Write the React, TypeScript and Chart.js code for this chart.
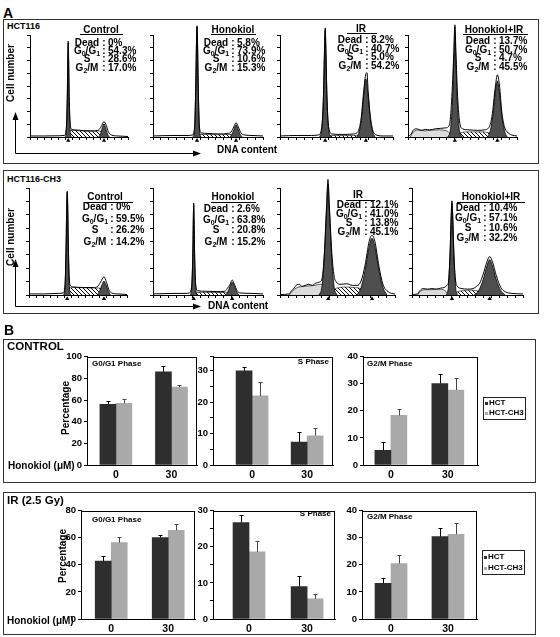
import React, { useEffect, useRef } from 'react';
import { Chart, registerables } from 'chart.js';
Chart.register(...registerables);

const FONT = '"Liberation Sans", Arial, Helvetica, sans-serif';
const DARK = '#2e2e2e';
const LIGHT = '#a9a9a9';
const PEAK = '#4e4e4e';

// ---------------- Panel B data ----------------
const doseLabels = ['0', '30'];
const seriesNames = ['HCT', 'HCT-CH3'];

const ctlG1Hct = [56, 86];
const ctlG1HctErr = [3, 5];
const ctlG1Ch3 = [57, 72];
const ctlG1Ch3Err = [4, 2];
const ctlSHct = [30, 7.3];
const ctlSHctErr = [1.3, 3.1];
const ctlSCh3 = [22, 9.3];
const ctlSCh3Err = [4.4, 2.5];
const ctlG2Hct = [5.4, 30.1];
const ctlG2HctErr = [3, 3.4];
const ctlG2Ch3 = [18.3, 27.7];
const ctlG2Ch3Err = [2.2, 4.5];

const irG1Hct = [42.7, 60.2];
const irG1HctErr = [4, 1.7];
const irG1Ch3 = [56.4, 65.5];
const irG1Ch3Err = [4.3, 4.4];
const irSHct = [26.7, 9.0];
const irSHctErr = [2.1, 2.9];
const irSCh3 = [18.6, 5.6];
const irSCh3Err = [2.9, 1.4];
const irG2Hct = [13.2, 30.4];
const irG2HctErr = [1.9, 3.3];
const irG2Ch3 = [20.5, 31.3];
const irG2Ch3Err = [3, 4.2];

// ---------------- Panel A data (DNA content 0-100, cell number % of axis) ----------------
const statLabels = ['Dead', 'G0/G1', 'S', 'G2/M'];
const treatTitles = ['Control', 'Honokiol', 'IR', 'Honokiol+IR'];
const hctStats = [
  ['0%', '54.3%', '28.6%', '17.0%'],
  ['5.8%', '73.9%', '10.6%', '15.3%'],
  ['8.2%', '40.7%', '5.0%', '54.2%'],
  ['13.7%', '50.7%', '4.7%', '45.5%'],
];
const ch3Stats = [
  ['0%', '59.5%', '26.2%', '14.2%'],
  ['2.6%', '63.8%', '20.8%', '15.2%'],
  ['12.1%', '41.0%', '13.8%', '45.1%'],
  ['10.4%', '57.1%', '10.6%', '32.2%'],
];

// HCT116 control
const hctCtlTotal = [[0,1],[15,1],[30,1.2],[35,1.5],[37,8],[38,38],[38.6,78],[39,94],[39.4,78],[40,40],[41,14],[42,8],[46,7],[55,6.2],[65,6],[70,7],[72.5,10],[75.5,15],[78,11],[80,5],[83,2],[90,1],[100,0.5]];
const hctCtlG1 = [[36,0],[37,6],[38,35],[38.6,75],[39,92],[39.4,75],[40,35],[41,6],[42,0]];
const hctCtlG2 = [[70,0],[72,3],[73.8,9],[75.5,13],[77.2,9],[79,3],[81,0]];
const hctCtlS = [[38.5,0],[40,5],[44,6.5],[52,6],[62,5.5],[70,6],[74,4],[76,0]];
const hctCtlMarks = [39, 75.5];
// HCT116 honokiol
const hctHonTotal = [[0,1],[20,1.5],[32,1.5],[36,2],[37.8,10],[38.8,47],[39.5,92],[40,109],[40.5,92],[41.2,47],[42.2,10],[44,4],[50,3.5],[60,3],[68,3.5],[71,5],[73.5,10],[75.5,14],[77.5,10],[80,4],[83,2],[90,1.5],[100,1]];
const hctHonG1 = [[36.5,0],[37.8,8],[38.8,45],[39.5,90],[40,108],[40.5,90],[41.2,45],[42.2,8],[43.5,0]];
const hctHonG2 = [[70,0],[72,3],[74,8.5],[75.5,12],[77,8.5],[79,3],[81,0]];
const hctHonS = [[40,0],[42,2.5],[50,2.5],[60,2.2],[70,2.5],[74,1.5],[76,0]];
const hctHonMarks = [40, 75.5];
// HCT116 IR
const hctIrTotal = [[0,1],[15,1.5],[28,1.5],[34,2],[37,10],[38.5,42],[39.4,87],[40,107],[40.6,87],[41.5,42],[43,10],[46,3],[55,2.5],[65,3],[68,4],[70,8],[72,20],[74,44],[76,62],[77,63],[78,45],[80,20],[82,7],[85,2],[92,1],[100,1]];
const hctIrG1 = [[35,0],[37,8],[38.5,40],[39.4,85],[40,105],[40.6,85],[41.5,40],[43,8],[45,0]];
const hctIrG2 = [[68,0],[70,5],[72,17],[74,40],[76,57],[78,40],[80,17],[82,5],[84,0]];
const hctIrS = [[42,0],[45,1.5],[55,1.5],[65,1.5],[70,1],[72,0]];
const hctIrMarks = [40, 76];
// HCT116 honokiol + IR
const hctHonIrTotal = [[0,0.5],[3,3],[5,7],[8,8],[12,6.5],[16,7.5],[20,7],[25,8],[30,8.5],[35,9],[38,12],[40,35],[42,82],[43,110],[44,82],[45.5,40],[47.5,14],[50,8],[56,7],[64,6.5],[70,7],[74,9],[77,20],[80,48],[82,61],[84,50],[86,25],[88.5,10],[91,5],[95,2],[100,1]];
const hctHonIrG1 = [[36.5,0],[39,8],[41,40],[42.3,85],[43,108],[43.7,85],[45,40],[47,8],[49.5,0]];
const hctHonIrG2 = [[73,0],[75.5,6],[78,22],[80.5,47],[82,55],[83.5,47],[86,22],[88.5,6],[91,0]];
const hctHonIrS = [[44,0],[48,4],[55,5],[62,5],[70,5],[76,3],[80,0]];
const hctHonIrDebris = [[2,0],[5,5],[10,7],[15,6],[20,6.5],[28,7],[34,6.5],[38,4],[40,0]];
const hctHonIrMarks = [43, 82];

// HCT116-CH3 control
const ch3CtlTotal = [[0,1],[15,1],[30,1.5],[35,2],[36.8,10],[37.8,44],[38.5,84],[39,97],[39.5,84],[40.2,44],[41.2,14],[42.5,8.5],[46,7.5],[56,7],[66,7],[70,8],[73,12],[76.5,17],[79,12],[81.5,5],[84,2],[90,1],[100,0.5]];
const ch3CtlG1 = [[35.5,0],[36.8,8],[37.8,42],[38.5,82],[39,96],[39.5,82],[40.2,42],[41.2,8],[42.5,0]];
const ch3CtlG2 = [[70,0],[72,3.5],[74.5,9.5],[76.5,13],[78.5,9.5],[81,3.5],[83,0]];
const ch3CtlS = [[38.5,0],[40.5,6],[45,7],[55,6.8],[65,6.5],[71,6.5],[75,4],[78,0]];
const ch3CtlMarks = [39, 76.5];
// HCT116-CH3 honokiol
const ch3HonTotal = [[0,1],[20,1.5],[30,1.5],[33,2],[35.2,9],[36.2,40],[36.7,74],[37,86],[37.3,74],[37.8,40],[38.8,10],[40.5,4],[48,3.5],[58,3.2],[65,3.5],[67.5,6],[70,10],[72,14],[74,10],[76.5,4],[79,2],[90,1.5],[100,1]];
const ch3HonG1 = [[34,0],[35.2,7],[36.2,38],[36.7,72],[37,84],[37.3,72],[37.8,38],[38.8,7],[40,0]];
const ch3HonG2 = [[66,0],[68,3],[70,8],[72,12],[74,8],[76,3],[78,0]];
const ch3HonS = [[38,0],[40,2.5],[50,2.5],[60,2.3],[67,2.5],[70,1.5],[72,0]];
const ch3HonMarks = [37, 72];
// HCT116-CH3 IR
const ch3IrTotal = [[0,0.5],[8,1],[10,4],[12,6],[14,9],[17,10],[19,8],[22,9],[25,10],[28,9],[31,11],[34,12],[36.5,15],[38.5,38],[40.5,83],[41.7,108],[42.9,84],[45,40],[47,18],[49,12],[53,10],[58,10.5],[63,9],[67,9],[70.5,13],[74,28],[77.5,50],[80,56],[82.5,50],[86,27],[89.5,10],[93,4],[97,1.5],[100,1]];
const ch3IrG1 = [[34,0],[36.5,8],[38.5,35],[40.5,80],[41.7,104],[42.9,80],[45,35],[47,8],[49.5,0]];
const ch3IrG2 = [[67,0],[70.5,7],[74,23],[77.5,45],[80,53],[82.5,45],[86,23],[89.5,7],[93,0]];
const ch3IrS = [[44,0],[47,5],[52,7],[58,7.5],[64,7],[70,6],[74,3],[77,0]];
const ch3IrDebris = [[8,0],[11,4],[15,7],[20,8],[25,8.5],[30,9],[35,10],[38,8],[40,0]];
const ch3IrMarks = [42, 80];
// HCT116-CH3 honokiol + IR
const ch3HonIrTotal = [[0,0.5],[5,1],[7,4],[10,6],[14,5.5],[18,6],[22,5.5],[26,6.5],[29,7],[31.5,9],[32.8,12],[34.3,40],[35.3,74],[36,88],[36.7,74],[37.7,40],[39.2,14],[41,8],[45,6],[50,5.5],[55,6],[58,8],[61,11],[64,19],[67.5,31],[70,36],[72.5,31],[76,18],[80,7],[84,3],[90,1.5],[100,1]];
const ch3HonIrG1 = [[31,0],[32.8,8],[34.3,38],[35.3,72],[36,86],[36.7,72],[37.7,38],[39.2,8],[41,0]];
const ch3HonIrG2 = [[56,0],[60,4],[64,14],[67.5,27],[70,33],[72.5,27],[76,14],[80,4],[84,0]];
const ch3HonIrS = [[38,0],[41,3],[46,4],[52,4.5],[58,4],[62,2.5],[65,0]];
const ch3HonIrDebris = [[5,0],[7,3],[12,5],[18,5],[24,5.5],[28,5],[31,3],[33,0]];
const ch3HonIrMarks = [36, 70];

// ---------------- helpers ----------------
function T(props: any) {
  const { x, y, s = 10, align = 'left', w = 200, style = {}, children } = props;
  const left = align === 'left' ? x : align === 'center' ? x - w / 2 : x - w;
  return (
    <div style={{ position: 'absolute', left, top: y - 0.59 * s, width: w, fontSize: s, lineHeight: `${1.2 * s}px`,
      fontFamily: FONT, fontWeight: 'bold', textAlign: align, whiteSpace: 'nowrap', color: '#000', ...style }}>{children}</div>
  );
}

function RotT(props: any) {
  const { cx, cy, s = 10, children } = props;
  return (
    <div style={{ position: 'absolute', left: cx - 50, top: cy - 0.6 * s, width: 100, fontSize: s, lineHeight: `${1.2 * s}px`,
      fontFamily: FONT, fontWeight: 'bold', textAlign: 'center', whiteSpace: 'nowrap', color: '#000',
      transform: 'rotate(-90deg)', transformOrigin: '50% 50%' }}>{children}</div>
  );
}

const subStyle: any = { fontSize: '0.7em', verticalAlign: '-0.25em', lineHeight: 0 };
function labelNode(i: number) {
  if (i === 1) return <span>G<span style={subStyle}>0</span>/G<span style={subStyle}>1</span></span>;
  if (i === 3) return <span>G<span style={subStyle}>2</span>/M</span>;
  return statLabels[i];
}

function Stats(props: any) {
  const { title, tx, ty, ul, colon, rows, values } = props;
  return (
    <>
      <T x={tx} y={ty} align="center" w={90}>{title}</T>
      <div style={{ position: 'absolute', left: ul[0], top: ul[2], width: ul[1] - ul[0], height: 1, background: '#000' }} />
      {rows.map((ry: number, i: number) => (
        <React.Fragment key={i}>
          <T x={colon - 17} y={ry} align="center" w={36}>{labelNode(i)}</T>
          <T x={colon} y={ry} align="center" w={8}>:</T>
          <T x={colon + 4} y={ry} w={60}>{values[i]}</T>
        </React.Fragment>
      ))}
    </>
  );
}

function Hist(props: any) {
  const ref = useRef<HTMLCanvasElement>(null);
  const PT = 14, PR = 4, YW = 4, XH = 8;
  useEffect(() => {
    const cv = ref.current as HTMLCanvasElement;
    const pc = document.createElement('canvas');
    pc.width = 4; pc.height = 4;
    const pctx = pc.getContext('2d') as CanvasRenderingContext2D;
    pctx.fillStyle = '#fff'; pctx.fillRect(0, 0, 4, 4);
    pctx.strokeStyle = '#000'; pctx.lineWidth = 1;
    pctx.beginPath(); pctx.moveTo(0, 0); pctx.lineTo(4, 4); pctx.stroke();
    const hatch = (cv.getContext('2d') as CanvasRenderingContext2D).createPattern(pc, 'repeat');
    const toXY = (a: number[][]) => a.map(([x, y]) => ({ x, y }));
    const area = (d: number[][], bg: any, bw: number) => ({ data: toXY(d), backgroundColor: bg, borderColor: '#000', borderWidth: bw,
      fill: 'origin', pointRadius: 0, cubicInterpolationMode: 'monotone', clip: false });
    const ds: any[] = [
      { data: toXY(props.total), borderColor: '#000', borderWidth: 1, fill: false, pointRadius: 0, cubicInterpolationMode: 'monotone', clip: false },
      { data: props.marks.map((x: number) => ({ x, y: -3.5 })), showLine: false, pointStyle: 'triangle', pointRadius: 2.5,
        pointBackgroundColor: '#000', pointBorderColor: '#000', pointBorderWidth: 0, fill: false, clip: false },
      area(props.g1, PEAK, 0.8),
      area(props.g2, PEAK, 0.8),
      area(props.s, hatch, 0.6),
    ];
    if (props.debris) ds.push(area(props.debris, '#dcdcdc', 0.6));
    const axis = (count: number) => ({
      type: 'linear', min: 0, max: 100,
      ticks: { display: false, count },
      grid: { drawOnChartArea: false, drawTicks: true, tickLength: 3, tickColor: '#000', color: '#000' },
      border: { display: true, color: '#000', width: 1 },
    });
    const chart = new Chart(cv, {
      type: 'line',
      data: { datasets: ds },
      options: {
        animation: false, responsive: false, events: [],
        layout: { padding: { top: PT, right: PR, left: 0, bottom: 0 } },
        plugins: { legend: { display: false }, tooltip: { enabled: false } },
        scales: {
          x: { ...axis(15), afterFit: (s: any) => { s.height = XH; } },
          y: { ...axis(9), afterFit: (s: any) => { s.width = YW; } },
        },
      } as any,
    });
    return () => chart.destroy();
  }, []);
  return <canvas ref={ref} width={props.w + YW + PR} height={props.h + PT + XH}
    style={{ position: 'absolute', left: props.x - YW, top: props.top - PT }} />;
}

const errorBarPlugin = {
  id: 'errbars',
  afterDatasetsDraw(chart: any) {
    const ctx = chart.ctx;
    const ys = chart.scales.y;
    chart.data.datasets.forEach((ds: any, i: number) => {
      const meta = chart.getDatasetMeta(i);
      if (!ds.errs) return;
      meta.data.forEach((bar: any, j: number) => {
        const v = ds.data[j].y;
        const top = Math.round(ys.getPixelForValue(v + ds.errs[j])) + 0.5;
        const x = Math.round(bar.x) + 0.5;
        ctx.save();
        ctx.strokeStyle = ds.errColor;
        ctx.lineWidth = 1;
        ctx.beginPath();
        ctx.moveTo(x, bar.y);
        ctx.lineTo(x, top);
        ctx.moveTo(x - 2, top);
        ctx.lineTo(x + 2, top);
        ctx.stroke();
        ctx.restore();
      });
    });
  },
};

const framePlugin = {
  id: 'frame',
  afterDraw(chart: any) {
    const { left, top, right, bottom } = chart.chartArea;
    const ctx = chart.ctx;
    ctx.save();
    ctx.strokeStyle = '#000';
    ctx.lineWidth = 1;
    ctx.strokeRect(Math.round(left) + 0.5, Math.round(top) + 0.5, Math.round(right - left) - 1, Math.round(bottom - top));
    ctx.restore();
  },
};

function Bars(props: any) {
  const ref = useRef<HTMLCanvasElement>(null);
  const PT = 6, PR = 4, YW = 30, XH = 18;
  useEffect(() => {
    const cv = ref.current as HTMLCanvasElement;
    const mk = (vals: number[], errs: number[], color: string, errColor: string, label: string) => ({
      label, data: vals.map((v, i) => ({ x: i, y: v })), backgroundColor: color, borderWidth: 0,
      barThickness: 16, errs, errColor,
    });
    const labelEvery = props.labelEvery;
    const chart = new Chart(cv, {
      type: 'bar',
      data: { datasets: [mk(props.hct, props.hctErr, DARK, '#000', seriesNames[0]), mk(props.ch3, props.ch3Err, LIGHT, '#444', seriesNames[1])] },
      options: {
        animation: false, responsive: false, events: [],
        layout: { padding: { top: PT, right: PR, left: 0, bottom: 0 } },
        plugins: { legend: { display: false }, tooltip: { enabled: false } },
        scales: {
          x: {
            type: 'linear', min: props.xMin, max: props.xMax, offset: false,
            afterBuildTicks: (s: any) => { s.ticks = [{ value: 0 }, { value: 1 }]; },
            ticks: { callback: (v: any) => doseLabels[v] ?? '', font: { family: FONT, size: 10.5, weight: 'bold' }, color: '#000', padding: 4, maxRotation: 0, autoSkip: false },
            grid: { drawOnChartArea: false, drawTicks: false, offset: false },
            border: { display: true, color: '#000', width: 1 },
            afterFit: (s: any) => { s.height = XH; },
          },
          y: {
            min: 0, max: props.yMax,
            ticks: { stepSize: props.yStep, callback: (v: any) => (v % labelEvery === 0 ? String(v) : ''), font: { family: FONT, size: 9.5, weight: 'bold' }, color: '#000', padding: 2 },
            grid: { drawOnChartArea: false, drawTicks: true, tickLength: 3, tickColor: '#000' },
            border: { display: true, color: '#000', width: 1 },
            afterFit: (s: any) => { s.width = YW; },
          },
        },
      } as any,
      plugins: [errorBarPlugin, framePlugin],
    });
    return () => chart.destroy();
  }, []);
  return <canvas ref={ref} width={props.w + YW + PR} height={props.h + PT + XH}
    style={{ position: 'absolute', left: props.x - YW, top: props.top - PT }} />;
}

function Legend(props: any) {
  const { x, y, w, h, r1, r2 } = props;
  return (
    <>
      <div style={{ position: 'absolute', left: x, top: y, width: w, height: h, border: '1px solid #222', boxSizing: 'border-box' }} />
      <div style={{ position: 'absolute', left: x + 2, top: r1 - 1, width: 3, height: 3, background: DARK }} />
      <T x={x + 6} y={r1} s={8} w={40}>{seriesNames[0]}</T>
      <div style={{ position: 'absolute', left: x + 2, top: r2 - 1, width: 3, height: 3, background: LIGHT }} />
      <T x={x + 6} y={r2} s={8} w={40}>{seriesNames[1]}</T>
    </>
  );
}

function Box(props: any) {
  const { x, y, w, h } = props;
  return <div style={{ position: 'absolute', left: x, top: y, width: w, height: h, border: '1px solid #333', boxSizing: 'border-box' }} />;
}

export default function App() {
  return (
    <div style={{ position: 'absolute', left: 0, top: 0, width: 560, height: 637, background: '#fff', overflow: 'hidden' }}>
      {/* ---------- Panel A ---------- */}
      <T x={3} y={13} s={14}>A</T>
      <Box x={3} y={19} w={536} h={145} />
      <Box x={3} y={170} w={536} h={144} />
      <T x={7} y={26} s={9}>HCT116</T>
      <T x={7} y={179} s={9}>HCT116-CH3</T>

      <Hist x={30} top={35} w={98} h={102} total={hctCtlTotal} g1={hctCtlG1} g2={hctCtlG2} s={hctCtlS} marks={hctCtlMarks} />
      <Hist x={153} top={35} w={110} h={102} total={hctHonTotal} g1={hctHonG1} g2={hctHonG2} s={hctHonS} marks={hctHonMarks} />
      <Hist x={280} top={35} w={113} h={102} total={hctIrTotal} g1={hctIrG1} g2={hctIrG2} s={hctIrS} marks={hctIrMarks} />
      <Hist x={408} top={35} w={109} h={102} total={hctHonIrTotal} g1={hctHonIrG1} g2={hctHonIrG2} s={hctHonIrS} debris={hctHonIrDebris} marks={hctHonIrMarks} />

      <Hist x={29} top={188} w={98} h={107} total={ch3CtlTotal} g1={ch3CtlG1} g2={ch3CtlG2} s={ch3CtlS} marks={ch3CtlMarks} />
      <Hist x={153} top={188} w={110} h={107} total={ch3HonTotal} g1={ch3HonG1} g2={ch3HonG2} s={ch3HonS} marks={ch3HonMarks} />
      <Hist x={280} top={188} w={115} h={107} total={ch3IrTotal} g1={ch3IrG1} g2={ch3IrG2} s={ch3IrS} debris={ch3IrDebris} marks={ch3IrMarks} />
      <Hist x={412} top={188} w={111} h={107} total={ch3HonIrTotal} g1={ch3HonIrG1} g2={ch3HonIrG2} s={ch3HonIrS} debris={ch3HonIrDebris} marks={ch3HonIrMarks} />

      <Stats title={treatTitles[0]} tx={101} ty={30} ul={[80, 123, 34]} colon={104} rows={[42.5, 51, 59, 67.5]} values={hctStats[0]} />
      <Stats title={treatTitles[1]} tx={233} ty={30} ul={[211, 256, 34]} colon={233} rows={[42.5, 51, 59, 67.5]} values={hctStats[1]} />
      <Stats title={treatTitles[2]} tx={361} ty={29} ul={[347, 377, 33]} colon={367} rows={[40, 48.5, 57, 66]} values={hctStats[2]} />
      <Stats title={treatTitles[3]} tx={494} ty={30} ul={[463, 528, 34]} colon={495} rows={[41, 49.5, 58, 67]} values={hctStats[3]} />

      <Stats title={treatTitles[0]} tx={105} ty={197} ul={[85, 133, 202]} colon={112} rows={[207, 218.5, 230, 242]} values={ch3Stats[0]} />
      <Stats title={treatTitles[1]} tx={233} ty={197} ul={[211, 256, 202]} colon={233} rows={[209, 220, 230, 242]} values={ch3Stats[1]} />
      <Stats title={treatTitles[2]} tx={358} ty={195} ul={[346, 375, 200]} colon={366} rows={[205, 213.5, 222.5, 231.5]} values={ch3Stats[2]} />
      <Stats title={treatTitles[3]} tx={491} ty={197} ul={[457, 525, 202]} colon={485} rows={[208, 218, 228, 238]} values={ch3Stats[3]} />

      <svg width={560} height={637} style={{ position: 'absolute', left: 0, top: 0 }}>
        <line x1={15.5} y1={153.5} x2={15.5} y2={118} stroke="#000" strokeWidth={1} />
        <polygon points="12.5,120 18.5,120 15.5,112" fill="#000" />
        <line x1={15.5} y1={153.5} x2={195} y2={153.5} stroke="#000" strokeWidth={1} />
        <polygon points="193,150.5 193,156.5 201,153.5" fill="#000" />
        <line x1={15.5} y1={306.5} x2={15.5} y2={266} stroke="#000" strokeWidth={1} />
        <polygon points="12.5,267 18.5,267 15.5,259" fill="#000" />
        <line x1={15.5} y1={306.5} x2={195} y2={306.5} stroke="#000" strokeWidth={1} />
        <polygon points="193,303.5 193,309.5 201,306.5" fill="#000" />
      </svg>
      <RotT cx={11} cy={73} s={10}>Cell number</RotT>
      <RotT cx={11} cy={237} s={10}>Cell number</RotT>
      <T x={217} y={150} s={10}>DNA content</T>
      <T x={208} y={306} s={10}>DNA content</T>

      {/* ---------- Panel B ---------- */}
      <T x={4} y={330} s={14}>B</T>
      <Box x={3} y={339} w={533} h={144} />
      <Box x={3} y={492} w={533} h={143} />
      <T x={7} y={347} s={11.5}>CONTROL</T>
      <T x={7} y={501} s={11.5}>IR (2.5 Gy)</T>

      <Bars x={87} top={355} w={110} h={110} yMax={100} yStep={20} labelEvery={20} xMin={-0.52} xMax={1.46}
        hct={ctlG1Hct} hctErr={ctlG1HctErr} ch3={ctlG1Ch3} ch3Err={ctlG1Ch3Err} />
      <Bars x={213} top={355} w={120} h={110} yMax={34.5} yStep={5} labelEvery={10} xMin={-0.71} xMax={1.47}
        hct={ctlSHct} hctErr={ctlSHctErr} ch3={ctlSCh3} ch3Err={ctlSCh3Err} />
      <Bars x={363} top={355} w={115} h={110} yMax={40} yStep={5} labelEvery={10} xMin={-0.49} xMax={1.53}
        hct={ctlG2Hct} hctErr={ctlG2HctErr} ch3={ctlG2Ch3} ch3Err={ctlG2Ch3Err} />

      <Bars x={81} top={509} w={114} h={110} yMax={80} yStep={20} labelEvery={20} xMin={-0.53} xMax={1.47}
        hct={irG1Hct} hctErr={irG1HctErr} ch3={irG1Ch3} ch3Err={irG1Ch3Err} />
      <Bars x={213} top={509} w={122} h={110} yMax={30} yStep={5} labelEvery={10} xMin={-0.62} xMax={1.48}
        hct={irSHct} hctErr={irSHctErr} ch3={irSCh3} ch3Err={irSCh3Err} />
      <Bars x={362} top={509} w={115} h={110} yMax={40} yStep={5} labelEvery={10} xMin={-0.51} xMax={1.51}
        hct={irG2Hct} hctErr={irG2HctErr} ch3={irG2Ch3} ch3Err={irG2Ch3Err} />

      <T x={92} y={363.5} s={8}>G0/G1 Phase</T>
      <T x={329} y={361.5} s={8} align="right" w={60}>S Phase</T>
      <T x={367} y={363.5} s={8}>G2/M Phase</T>
      <T x={92} y={520} s={8}>G0/G1 Phase</T>
      <T x={331} y={514} s={8} align="right" w={60}>S Phase</T>
      <T x={367} y={517} s={8}>G2/M Phase</T>

      <RotT cx={66} cy={408} s={10}>Percentage</RotT>
      <RotT cx={63} cy={556} s={10}>Percentage</RotT>
      <T x={8} y={466} s={10}>Honokiol (μM)</T>
      <T x={7} y={621} s={10}>Honokiol (μM)</T>

      <Legend x={483} y={397} w={43} h={23} r1={402.5} r2={413} />
      <Legend x={482} y={550} w={43} h={25} r1={557} r2={568} />
    </div>
  );
}
